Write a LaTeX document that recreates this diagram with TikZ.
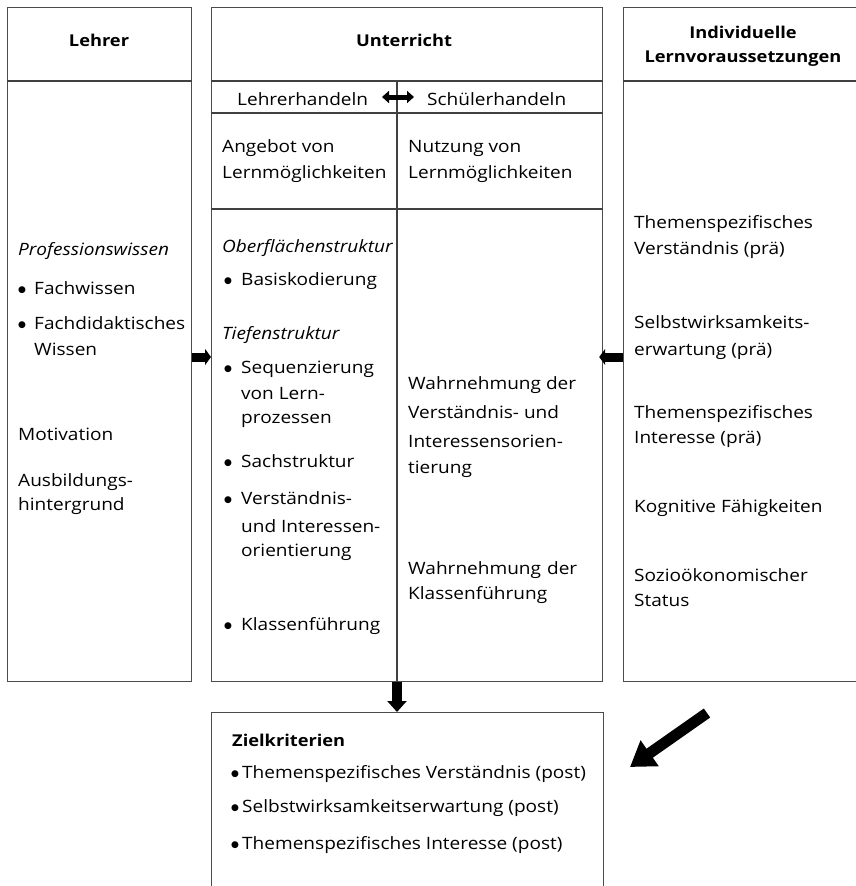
\documentclass[tikz,border=0pt]{standalone}
\usepackage{fontspec}
\setmainfont{Open Sans}[FakeStretch=1.12]
\newfontfamily\dejavu{DejaVu Sans}
\newcommand\bul{\raisebox{1.2pt}{\dejavu\fontsize{9}{9}\selectfont ●}}
\newcommand\bulA{\makebox[16pt][l]{\bul}}
\newcommand\bulB{\makebox[17pt][l]{\bul}}
\newcommand\bulC{\makebox[11pt][l]{\bul}}
\usetikzlibrary{arrows.meta}
\begin{document}
\begin{tikzpicture}[x=1pt,y=-1pt,
  box/.style={draw=black!70, line width=1.2pt, anchor=north west, inner sep=0pt},
  sep/.style={draw=black!75, line width=1.2pt},
  txt/.style={anchor=base west, inner sep=0pt, font=\fontsize{17}{20}\selectfont},
  itx/.style={txt, font=\fontsize{17}{20}\selectfont\itshape},
  head/.style={anchor=base, inner sep=0pt, font=\fontsize{16.3}{19}\selectfont\bfseries},
  sidearrow/.style={line width=9pt, -{Triangle[length=6pt,width=16pt]}},
  downarrow/.style={line width=10pt, -{Triangle[length=11pt,width=19pt]}},
  dblarrow/.style={line width=5pt, {Triangle[length=7pt,width=12pt]}-{Triangle[length=7pt,width=12pt]}},
  diagarrow/.style={line width=11pt, -{Triangle[length=24pt,width=30pt]}}
]
\useasboundingbox (0,0) rectangle (855,886);
% boxes
\node[box, minimum width=184pt, minimum height=674pt] (lehrer) at (7,7) {};
\node[box, minimum width=391pt, minimum height=674pt] (unt) at (211,7) {};
\node[box, minimum width=245pt, minimum height=674pt] (lv) at (623,7) {};
\node[box, minimum width=392pt, minimum height=200pt] (ziel) at (211,712) {};
% separators
\draw[sep] (lehrer.west |- 0,81) -- (lehrer.east |- 0,81);
\draw[sep] (unt.west |- 0,81) -- (unt.east |- 0,81);
\draw[sep] (unt.west |- 0,113) -- (unt.east |- 0,113);
\draw[sep] (unt.west |- 0,209) -- (unt.east |- 0,209);
\draw[sep] (lv.west |- 0,81) -- (lv.east |- 0,81);
\draw[sep] (397,81) -- (397,0 |- unt.south);
% headers
\node[head] (hL) at (99,46) {Lehrer};
\node[head] (hU) at (404,46) {Unterricht};
\node[head] (hR1) at (743,38) {Individuelle};
\node[head] (hR2) at (743,62) {Lernvoraussetzungen};
% Lehrerhandeln / Schuelerhandeln
\node[txt] (lh) at (237,105) {Lehrerhandeln};
\node[txt] (sh) at (427,105) {Schülerhandeln};
\coordinate (dA) at (382,97);
\coordinate (dB) at (414,97);
\draw[dblarrow] (dA) -- (dB);
% Angebot / Nutzung
\node[txt] (ang1) at (222,152) {Angebot von};
\node[txt] (ang2) at (222,178) {Lernmöglichkeiten};
\node[txt] (nut1) at (408,152) {Nutzung von};
\node[txt] (nut2) at (408,178) {Lernmöglichkeiten};
% left column
\node[itx] (pw) at (18,255) {Professionswissen};
\node[txt] (fw) at (18,294) {\bulA Fachwissen};
\node[txt] (fd1) at (18,329) {\bulA Fachdidaktisches};
\node[txt] (fd2) at (34,355) {Wissen};
\node[txt] (mot) at (18,440) {Motivation};
\node[txt] (ab1) at (18,486) {Ausbildungs-};
\node[txt] (ab2) at (18,510) {hintergrund};
% center left column
\node[itx] (os) at (222,252) {Oberflächenstruktur};
\node[txt] (bk) at (224,285) {\bulB Basiskodierung};
\node[itx] (ts) at (222,339) {Tiefenstruktur};
\node[txt] (sq1) at (224,373) {\bulB Sequenzierung};
\node[txt] (sq2) at (241,399) {von Lern-};
\node[txt] (sq3) at (241,423) {prozessen};
\node[txt] (ss) at (224,467) {\bulB Sachstruktur};
\node[txt] (vi1) at (224,504) {\bulB Verständnis-};
\node[txt] (vi2) at (241,532) {und Interessen-};
\node[txt] (vi3) at (241,556) {orientierung};
\node[txt] (kf) at (224,630) {\bulB Klassenführung};
% center right column
\node[txt] (wa1) at (408,389) {Wahrnehmung der};
\node[txt] (wa2) at (408,418) {Verständnis- und};
\node[txt] (wa3) at (408,447) {Interessensorien-};
\node[txt] (wa4) at (408,473) {tierung};
\node[txt] (wb1) at (408,574) {Wahrnehmung\hspace{6pt}der};
\node[txt] (wb2) at (408,599) {Klassenführung};
% right column
\node[txt] (r1) at (634,228) {Themenspezifisches};
\node[txt] (r2) at (634,254) {Verständnis (prä)};
\node[txt] (r3) at (634,328) {Selbstwirksamkeits-};
\node[txt] (r4) at (634,355) {erwartung (prä)};
\node[txt] (r5) at (634,418) {Themenspezifisches};
\node[txt] (r6) at (634,443) {Interesse (prä)};
\node[txt] (r7) at (634,512) {Kognitive Fähigkeiten};
\node[txt] (r8) at (634,581) {Sozioökonomischer};
\node[txt] (r9) at (634,606) {Status};
% Zielkriterien
\node[txt, font=\fontsize{16.3}{19}\selectfont\bfseries] (zk) at (232,746) {Zielkriterien};
\node[txt] (z1) at (231,778) {\bulC Themenspezifisches Verständnis (post)};
\node[txt] (z2) at (231,812) {\bulC Selbstwirksamkeitserwartung (post)};
\node[txt] (z3) at (231,849) {\bulC Themenspezifisches Interesse (post)};
% arrows
\draw[sidearrow] (lehrer.east |- 0,357) -- (unt.west |- 0,357);
\draw[sidearrow] (lv.west |- 0,357) -- ([xshift=-4pt]unt.east |- 0,357);
\draw[downarrow] (397,0 |- unt.south) -- (397,0 |- ziel.north);
\coordinate (gA) at (707,713);
\coordinate (gB) at (630,767);
\draw[diagarrow] (gA) -- (gB);
\end{tikzpicture}
\end{document}
